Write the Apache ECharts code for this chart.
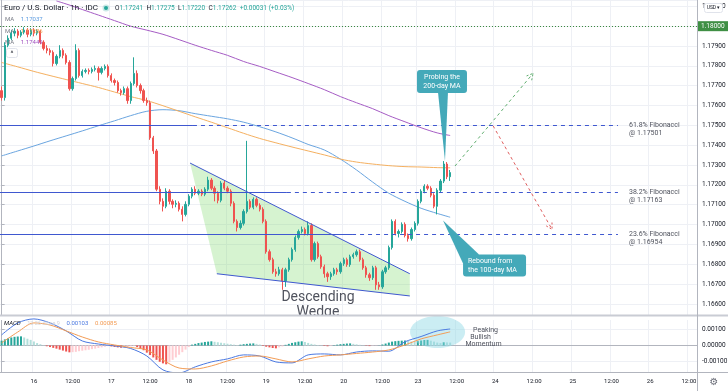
<!DOCTYPE html>
<html>
<head>
<meta charset="utf-8">
<script src="https://cdn.jsdelivr.net/npm/echarts@6/dist/echarts.min.js"></script>
<style>
html,body{margin:0;padding:0;background:#ffffff;}
#chart{width:728px;height:391px;}
</style>
</head>
<body>
<div id="chart"></div>
<script>
// ---------- time axis (hourly sessions) ----------
const sessionDays      = ['15','16','17','18','19','20','23','24','25','26'];
const sessionFirstHour = [14, 0, 0, 0, 0, 0, 0, 0, 0, 0];
const sessionLastHour  = [23,23,23,23,23,22,23,23,23,14];

// ---------- EUR/USD 1h candles ----------
const opens = [
1.17675,1.17640,1.17904,1.17939,1.17965,1.17975,1.17954,1.17970,1.17980,1.17959,
1.17980,1.17965,1.17975,1.17919,1.17888,1.17878,1.17868,1.17812,1.17848,1.17878,
1.17853,1.17817,1.17685,1.17736,1.17878,1.17751,1.17772,1.17777,1.17772,1.17782,
1.17787,1.17767,1.17787,1.17797,1.17751,1.17726,1.17716,1.17675,1.17665,1.17685,
1.17625,1.17711,1.17762,1.17701,1.17675,1.17625,1.17614,1.17437,1.17371,1.17178,
1.17117,1.17092,1.17168,1.17117,1.17102,1.17107,1.17077,1.17051,1.17102,1.17143,
1.17178,1.17158,1.17168,1.17153,1.17178,1.17224,1.17183,1.17158,1.17122,1.17209,
1.17183,1.17168,1.17107,1.17016,1.16985,1.17006,1.17066,1.17117,1.17087,1.17127,
1.17097,1.17077,1.17016,1.16863,1.16823,1.16762,1.16752,1.16772,1.16716,1.16772,
1.16823,1.16874,1.16935,1.16965,1.16975,1.16955,1.16995,1.16823,1.16904,1.16838,
1.16787,1.16752,1.16737,1.16752,1.16772,1.16762,1.16803,1.16823,1.16798,1.16838,
1.16848,1.16863,1.16823,1.16782,1.16747,1.16732,1.16782,1.16696,1.16686,1.16762,
1.16782,1.16884,1.17016,1.16955,1.16965,1.17001,1.16945,1.16929,1.16975,1.17006,
1.17117,1.17168,1.17193,1.17183,1.17148,1.17092,1.17173,1.17219,1.17305,1.17241];
const closes = [
1.17640,1.17904,1.17939,1.17965,1.17975,1.17954,1.17970,1.17980,1.17959,1.17980,
1.17965,1.17975,1.17919,1.17888,1.17878,1.17868,1.17812,1.17848,1.17878,1.17853,
1.17817,1.17685,1.17736,1.17878,1.17751,1.17772,1.17777,1.17772,1.17782,1.17787,
1.17767,1.17787,1.17797,1.17751,1.17726,1.17716,1.17675,1.17665,1.17685,1.17625,
1.17711,1.17762,1.17701,1.17675,1.17625,1.17614,1.17437,1.17371,1.17178,1.17117,
1.17092,1.17168,1.17117,1.17102,1.17107,1.17077,1.17051,1.17102,1.17143,1.17178,
1.17158,1.17168,1.17153,1.17178,1.17224,1.17183,1.17158,1.17122,1.17209,1.17183,
1.17168,1.17107,1.17016,1.16985,1.17006,1.17066,1.17117,1.17087,1.17127,1.17097,
1.17077,1.17016,1.16863,1.16823,1.16762,1.16752,1.16772,1.16716,1.16772,1.16823,
1.16874,1.16935,1.16965,1.16975,1.16955,1.16995,1.16823,1.16904,1.16838,1.16787,
1.16752,1.16737,1.16752,1.16772,1.16762,1.16803,1.16823,1.16798,1.16838,1.16848,
1.16863,1.16823,1.16782,1.16747,1.16732,1.16782,1.16696,1.16686,1.16762,1.16782,
1.16884,1.17016,1.16955,1.16965,1.17001,1.16945,1.16929,1.16975,1.17006,1.17117,
1.17168,1.17193,1.17183,1.17148,1.17092,1.17173,1.17219,1.17305,1.17241,1.17262];
const lows = [
1.17625,1.17625,1.17894,1.17929,1.17949,1.17939,1.17944,1.17959,1.17944,1.17949,
1.17949,1.17954,1.17909,1.17878,1.17863,1.17853,1.17797,1.17802,1.17838,1.17838,
1.17807,1.17675,1.17675,1.17726,1.17741,1.17741,1.17762,1.17757,1.17762,1.17772,
1.17726,1.17757,1.17777,1.17741,1.17716,1.17701,1.17665,1.17650,1.17655,1.17609,
1.17609,1.17701,1.17691,1.17660,1.17614,1.17599,1.17427,1.17356,1.17168,1.17102,
1.17066,1.17082,1.17102,1.17082,1.17087,1.17066,1.17016,1.17041,1.17092,1.17132,
1.17148,1.17148,1.17143,1.17143,1.17168,1.17173,1.17117,1.17107,1.17112,1.17173,
1.17158,1.17092,1.17006,1.16965,1.16975,1.16995,1.17056,1.17077,1.17077,1.17087,
1.17066,1.17006,1.16853,1.16813,1.16752,1.16737,1.16742,1.16671,1.16686,1.16762,
1.16813,1.16863,1.16924,1.16955,1.16945,1.16945,1.16813,1.16813,1.16828,1.16777,
1.16732,1.16711,1.16721,1.16742,1.16747,1.16752,1.16792,1.16787,1.16787,1.16828,
1.16838,1.16813,1.16772,1.16732,1.16716,1.16721,1.16671,1.16671,1.16676,1.16752,
1.16772,1.16874,1.16945,1.16935,1.16955,1.16935,1.16914,1.16919,1.16965,1.16995,
1.17107,1.17158,1.17173,1.17137,1.17082,1.17051,1.17163,1.17209,1.17229,1.17220];
const highs = [
1.17696,1.17919,1.17954,1.17980,1.17990,1.17985,1.17980,1.17995,1.17990,1.17990,
1.17990,1.17985,1.17980,1.17929,1.17904,1.17888,1.17878,1.17858,1.17904,1.17888,
1.17863,1.17828,1.17746,1.17909,1.17888,1.17782,1.17787,1.17787,1.17792,1.17802,
1.17797,1.17797,1.17807,1.17807,1.17762,1.17736,1.17726,1.17685,1.17696,1.17696,
1.17721,1.17843,1.17777,1.17711,1.17685,1.17640,1.17625,1.17447,1.17381,1.17193,
1.17132,1.17183,1.17178,1.17127,1.17122,1.17117,1.17092,1.17117,1.17153,1.17188,
1.17193,1.17178,1.17178,1.17188,1.17241,1.17234,1.17193,1.17168,1.17219,1.17224,
1.17193,1.17178,1.17117,1.17026,1.17021,1.17077,1.17422,1.17127,1.17137,1.17137,
1.17107,1.17087,1.17026,1.16874,1.16833,1.16777,1.16787,1.16782,1.16782,1.16833,
1.16884,1.16945,1.16975,1.16990,1.16985,1.17016,1.17006,1.16914,1.16914,1.16848,
1.16798,1.16762,1.16762,1.16782,1.16782,1.16813,1.16833,1.16833,1.16848,1.16858,
1.16874,1.16874,1.16833,1.16792,1.16757,1.16792,1.16792,1.16711,1.16772,1.16792,
1.16894,1.17026,1.17026,1.16975,1.17011,1.17011,1.16955,1.16985,1.17016,1.17127,
1.17178,1.17203,1.17203,1.17193,1.17158,1.17183,1.17229,1.17320,1.17315,1.17275];

// ---------- moving averages (read every 5 bars) ----------
const maBars  = [0,5,10,15,20,25,30,35,40,45,50,55,60,65,70,75,80,85,90,95,100,105,110,115,120,125,130,135,139];
const ma100 = [1.17346,1.17371,1.17396,1.17422,1.17447,1.17472,1.17498,1.17523,1.17549,1.17571,1.17579,1.17574,1.17559,1.17546,1.17533,1.17516,1.17493,1.17467,1.17437,1.17404,1.17376,1.17330,1.17275,1.17214,1.17158,1.17117,1.17082,1.17056,1.17037];
const ma50  = [1.17817,1.17795,1.17772,1.17751,1.17731,1.17711,1.17691,1.17668,1.17645,1.17625,1.17599,1.17571,1.17543,1.17516,1.17488,1.17460,1.17434,1.17412,1.17391,1.17371,1.17351,1.17330,1.17315,1.17305,1.17297,1.17292,1.17290,1.17287,1.17286];
const ma200Bars = [17,20,25,30,35,40,45,50,55,60,65,70,75,80,85,90,95,100,105,110,115,120,125,130,135,139];
const ma200 = [1.18127,1.18112,1.18084,1.18056,1.18028,1.18000,1.17980,1.17959,1.17932,1.17904,1.17878,1.17853,1.17822,1.17797,1.17769,1.17741,1.17711,1.17680,1.17645,1.17614,1.17584,1.17549,1.17518,1.17488,1.17462,1.17449];

// ---------- MACD ----------
const macdLine   = [0.00066,0.00141,0.00166,0.00141,0.00091,0.00028,0.00009,-0.00003,-0.00019,-0.00066,-0.00153,-0.00172,-0.00134,-0.00103,-0.00084,-0.00059,-0.00066,-0.00103,-0.00109,-0.00059,-0.00053,-0.00059,-0.00041,-0.00034,-0.00036,0.00023,0.00056,0.00091,0.00103];
const signalLine = [0.00016,0.00084,0.00141,0.00128,0.00091,0.00053,0.00022,0.00003,-0.00013,-0.00028,-0.00091,-0.00141,-0.00147,-0.00128,-0.00097,-0.00072,-0.00066,-0.00084,-0.00103,-0.00084,-0.00066,-0.00059,-0.00050,-0.00041,-0.00028,0.00003,0.00041,0.00066,0.00085];
const histogram = [
0.00030,0.00038,0.00045,0.00050,0.00054,0.00056,0.00057,0.00050,0.00042,0.00035,
0.00025,0.00015,0.00008,0.00002,-0.00005,-0.00010,-0.00015,-0.00020,-0.00026,-0.00032,
-0.00038,-0.00043,-0.00042,-0.00040,-0.00036,-0.00033,-0.00030,-0.00027,-0.00023,-0.00020,
-0.00016,-0.00012,-0.00008,-0.00004,-0.00006,-0.00009,-0.00012,-0.00014,-0.00013,-0.00010,
-0.00006,-0.00003,-0.00010,-0.00020,-0.00030,-0.00045,-0.00060,-0.00075,-0.00090,-0.00102,
-0.00112,-0.00118,-0.00105,-0.00090,-0.00075,-0.00058,-0.00042,-0.00026,-0.00010,0.00005,
0.00010,0.00015,0.00018,0.00022,0.00024,0.00026,0.00023,0.00020,0.00017,0.00014,
0.00011,0.00008,0.00005,0.00003,0.00005,0.00008,0.00010,0.00012,0.00013,0.00010,
0.00006,-0.00003,-0.00008,-0.00012,-0.00016,-0.00018,-0.00012,-0.00006,0.00004,0.00010,
0.00016,0.00020,0.00024,0.00026,0.00022,0.00016,0.00010,0.00006,0.00003,0.00001,
-0.00003,-0.00005,-0.00003,0.00002,0.00005,0.00008,0.00010,0.00012,0.00013,0.00010,
0.00007,0.00004,0.00001,-0.00002,-0.00004,-0.00002,-0.00001,0.00001,0.00006,0.00012,
0.00018,0.00024,0.00027,0.00029,0.00030,0.00031,0.00028,0.00025,0.00023,0.00027,
0.00031,0.00034,0.00035,0.00030,0.00024,0.00018,0.00015,0.00020,0.00019,0.00018];

// ---------- drawings (bar index, price) ----------
const alertLevel = 1.18;
const fibLevels = [1.17501, 1.17163, 1.16954];
const fibNames  = ['61.8% Fibonacci', '38.2% Fibonacci', '23.6% Fibonacci'];
const fibSolidTo = [59.3, 88.4, 108.6];
const fibDashTo  = 191;
const wedgeUpper = [[58.4, 1.17310], [126.5, 1.16752]];
const wedgeLower = [[66.7, 1.16752], [126.5, 1.16640]];
const arrowStart = [[140.5, 1.17295], [152.3, 1.17498]];
const arrowEnd   = [[164.7, 1.17762], [170.6, 1.16975]];
const arrowColors = ['#5fae6e', '#e06060'];
const calloutTips = [[137.4, 1.17320], [136.8, 1.17021]];
const calloutTexts = [['Probing the', '200-day MA'], ['Rebound from', 'the 100-day MA']];
const macdHighlight = [135.1, 0.00084];

// ---------- build ----------
const categories = [];
sessionDays.forEach((d, k) => {
  for (let h = sessionFirstHour[k]; h <= sessionLastHour[k]; h++) {
    categories.push(d + ' ' + String(h).padStart(2, '0') + ':00');
  }
});
const N = categories.length;
const FONT = "Roboto, 'Liberation Sans', Arial, sans-serif";
const GRIDC = '#eef0f5';
const AXC = '#b2b5be';
const TEAL = '#44a9b9';
const FIBC = '#3f58d0';
const isMajor = (idx, val) => { const t = String(val).slice(-5); return t === '00:00' || t === '12:00'; };
const timeLabel = (val) => { const t = String(val).slice(-5); return t === '00:00' ? String(val).split(' ')[0] : (t === '12:00' ? '12:00' : ''); };
const candleData = opens.map((o, i) => [o, closes[i], lows[i], highs[i]]);
const last = opens.length - 1;
const histColor = (i) => {
  const v = histogram[i], p = i > 0 ? histogram[i - 1] : v;
  if (v >= 0) return (v < p) ? '#b2dfdb' : '#26a69a';
  return (v > p) ? '#ffcdd2' : '#ef5350';
};
const snap = v => Math.round(v) + 0.5;

const option = {
  animation: false,
  backgroundColor: '#ffffff',
  textStyle: { fontFamily: FONT },
  grid: [
    { left: 0, top: 0, width: 697, height: 315, outerBoundsMode: 'none' },
    { left: 0, top: 317, width: 697, height: 55, outerBoundsMode: 'none' }
  ],
  xAxis: [
    { type: 'category', gridIndex: 0, data: categories, boundaryGap: true,
      axisLine: { show: false }, axisTick: { show: false }, axisLabel: { show: false },
      splitLine: { show: true, interval: isMajor, lineStyle: { color: GRIDC, width: 1 } } },
    { type: 'category', gridIndex: 1, data: categories, boundaryGap: true,
      axisLine: { show: true, lineStyle: { color: AXC } }, axisTick: { show: false },
      axisLabel: { show: true, interval: isMajor, formatter: timeLabel, fontSize: 6, color: '#131722', margin: 6, fontFamily: FONT },
      splitLine: { show: true, interval: isMajor, lineStyle: { color: GRIDC, width: 1 } } },
    { type: 'value', gridIndex: 0, min: -0.5, max: N - 0.5, show: false },
    { type: 'value', gridIndex: 1, min: -0.5, max: N - 0.5, show: false }
  ],
  yAxis: [
    { type: 'value', gridIndex: 0, position: 'right', min: 1.16544, max: 1.18132, splitNumber: 16,
      axisLine: { show: true, lineStyle: { color: AXC } },
      axisTick: { show: true, length: 3, lineStyle: { color: AXC } },
      axisLabel: { formatter: v => v.toFixed(5), fontSize: 6.5, color: '#131722', margin: 5, showMinLabel: false, showMaxLabel: false, fontFamily: FONT },
      splitLine: { show: true, lineStyle: { color: GRIDC } } },
    { type: 'value', gridIndex: 1, position: 'right', min: -0.00166, max: 0.00178, splitNumber: 3,
      axisLine: { show: true, lineStyle: { color: AXC } },
      axisTick: { show: true, length: 3, lineStyle: { color: AXC } },
      axisLabel: { formatter: v => v.toFixed(5), fontSize: 6.5, color: '#131722', margin: 5, showMinLabel: false, showMaxLabel: false, fontFamily: FONT },
      splitLine: { show: true, lineStyle: { color: GRIDC } } }
  ],
  series: [
    { type: 'custom', xAxisIndex: 2, yAxisIndex: 0, z: 1, silent: true,
      data: [[wedgeUpper[0][0], wedgeUpper[0][1]]],
      renderItem: (params, api) => {
        const pts = [wedgeUpper[0], wedgeUpper[1], wedgeLower[1], wedgeLower[0]].map(p => api.coord(p));
        return { type: 'polygon', shape: { points: pts }, style: { fill: 'rgba(120,215,100,0.30)', stroke: null } };
      } },
    { type: 'line', name: 'MA100', xAxisIndex: 0, yAxisIndex: 0, z: 2, data: maBars.map((b, k) => [b, ma100[k]]),
      showSymbol: false, smooth: 0.3, lineStyle: { color: '#6aa5e0', width: 1 }, silent: true },
    { type: 'line', name: 'MA50', xAxisIndex: 0, yAxisIndex: 0, z: 2, data: maBars.map((b, k) => [b, ma50[k]]),
      showSymbol: false, smooth: 0.3, lineStyle: { color: '#f5b060', width: 1 }, silent: true },
    { type: 'line', name: 'MA200', xAxisIndex: 0, yAxisIndex: 0, z: 2, data: ma200Bars.map((b, k) => [b, ma200[k]]),
      showSymbol: false, smooth: 0.3, lineStyle: { color: '#a55cc4', width: 1 }, silent: true },
    { type: 'candlestick', xAxisIndex: 0, yAxisIndex: 0, z: 3, data: candleData, barWidth: 1.8,
      itemStyle: { color: '#26a69a', color0: '#ef5350', borderColor: '#26a69a', borderColor0: '#ef5350', borderWidth: 1 },
      markLine: { symbol: ['none', 'none'], silent: true, animation: false, precision: 5,
        data: [
          { yAxis: alertLevel, lineStyle: { color: '#3b8a3e', type: [1, 2], width: 1 },
            label: { show: true, position: 'end', distance: 0, formatter: alertLevel.toFixed(5), backgroundColor: '#3f8f44', color: '#ffffff', fontSize: 6.5, padding: [2, 4, 1, 4], fontFamily: FONT } },
          { yAxis: closes[last], lineStyle: { opacity: 0 },
            label: { show: true, position: 'end', distance: 0, formatter: closes[last].toFixed(5), backgroundColor: '#26a69a', color: '#ffffff', fontSize: 6.5, padding: [2, 4, 1, 4], fontFamily: FONT } }
        ] } },
    { type: 'custom', xAxisIndex: 2, yAxisIndex: 0, z: 4, silent: true,
      data: [[wedgeUpper[0][0], wedgeUpper[0][1], wedgeUpper[1][0], wedgeUpper[1][1]], [wedgeLower[0][0], wedgeLower[0][1], wedgeLower[1][0], wedgeLower[1][1]]],
      renderItem: (params, api) => {
        const a = api.coord([api.value(0), api.value(1)]), b = api.coord([api.value(2), api.value(3)]);
        return { type: 'line', shape: { x1: a[0], y1: a[1], x2: b[0], y2: b[1] }, style: { stroke: FIBC, lineWidth: 1 } };
      } },
    { type: 'custom', xAxisIndex: 2, yAxisIndex: 0, z: 4, silent: true,
      data: fibLevels.map((v, k) => [fibSolidTo[k], v]),
      renderItem: (params, api) => {
        const k = params.dataIndex, lvl = fibLevels[k];
        const p0 = api.coord([-0.5, lvl]), p1 = api.coord([fibSolidTo[k], lvl]), p2 = api.coord([fibDashTo, lvl]);
        const y = snap(p1[1]);
        return { type: 'group', children: [
          { type: 'line', shape: { x1: p0[0], y1: y, x2: p1[0], y2: y }, style: { stroke: FIBC, lineWidth: 1 } },
          { type: 'line', shape: { x1: p1[0], y1: y, x2: p2[0], y2: y }, style: { stroke: FIBC, lineWidth: 1, lineDash: [4, 4] } },
          { type: 'text', x: p2[0] + 11, y: y, style: { text: fibNames[k], fill: '#50535e', font: '7px ' + FONT, verticalAlign: 'middle', align: 'left' } },
          { type: 'text', x: p2[0] + 11, y: y + 8, style: { text: '@ ' + lvl.toFixed(5), fill: '#50535e', font: '7px ' + FONT, verticalAlign: 'middle', align: 'left' } }
        ] };
      } },
    { type: 'custom', xAxisIndex: 2, yAxisIndex: 0, z: 4, silent: true,
      data: arrowStart.map((s, k) => [s[0], s[1], arrowEnd[k][0], arrowEnd[k][1]]),
      renderItem: (params, api) => {
        const a = api.coord([api.value(0), api.value(1)]), b = api.coord([api.value(2), api.value(3)]);
        const c = arrowColors[params.dataIndex];
        const ang = Math.atan2(b[1] - a[1], b[0] - a[0]), L = 7, w = 0.5;
        const h1 = [b[0] - L * Math.cos(ang - w), b[1] - L * Math.sin(ang - w)];
        const h2 = [b[0] - L * Math.cos(ang + w), b[1] - L * Math.sin(ang + w)];
        return { type: 'group', children: [
          { type: 'line', shape: { x1: a[0], y1: a[1], x2: b[0], y2: b[1] }, style: { stroke: c, lineWidth: 1, lineDash: [3, 3] } },
          { type: 'polyline', shape: { points: [h1, b, h2] }, style: { stroke: c, lineWidth: 1, fill: null, lineDash: [2, 2] } }
        ] };
      } },
    { type: 'custom', xAxisIndex: 2, yAxisIndex: 0, z: 6, silent: true,
      data: calloutTips.map(t => [t[0], t[1]]),
      renderItem: (params, api) => {
        const k = params.dataIndex;
        const t = api.coord([api.value(0), api.value(1)]);
        const txt = calloutTexts[k];
        if (k === 0) {
          const bx = t[0] - 28, by = t[1] - 91, bw = 50, bh = 23;
          return { type: 'group', children: [
            { type: 'polygon', shape: { points: [t, [t[0] - 7, by + bh - 1], [t[0] + 3, by + bh - 1]] }, style: { fill: TEAL } },
            { type: 'rect', shape: { x: bx, y: by, width: bw, height: bh, r: 3 }, style: { fill: TEAL } },
            { type: 'text', x: bx + bw / 2, y: by + 7.5, style: { text: txt[0], fill: '#ffffff', font: '7px ' + FONT, align: 'center', verticalAlign: 'middle' } },
            { type: 'text', x: bx + bw / 2, y: by + 16, style: { text: txt[1], fill: '#ffffff', font: '7px ' + FONT, align: 'center', verticalAlign: 'middle' } }
          ] };
        }
        const bx = t[0] + 20, by = t[1] + 34, bw = 63, bh = 22;
        return { type: 'group', children: [
          { type: 'polygon', shape: { points: [t, [bx, by + 9], [bx + 16, by]] }, style: { fill: TEAL } },
          { type: 'rect', shape: { x: bx, y: by, width: bw, height: bh, r: 3 }, style: { fill: TEAL } },
          { type: 'text', x: bx + 5, y: by + 7, style: { text: txt[0], fill: '#ffffff', font: '7px ' + FONT, align: 'left', verticalAlign: 'middle' } },
          { type: 'text', x: bx + 5, y: by + 15.5, style: { text: txt[1], fill: '#ffffff', font: '7px ' + FONT, align: 'left', verticalAlign: 'middle' } }
        ] };
      } },
    { type: 'bar', xAxisIndex: 1, yAxisIndex: 1, z: 2, barWidth: 2, silent: true,
      data: histogram.map((v, i) => ({ value: v, itemStyle: { color: histColor(i) } })) },
    { type: 'custom', xAxisIndex: 3, yAxisIndex: 1, z: 3, silent: true,
      data: [macdHighlight],
      renderItem: (params, api) => {
        const c = api.coord([api.value(0), api.value(1)]);
        return { type: 'group', children: [
          { type: 'ellipse', shape: { cx: c[0], cy: c[1], rx: 27.5, ry: 16 }, style: { fill: 'rgba(140,215,228,0.45)' } },
          { type: 'text', x: c[0] + 48, y: c[1] - 1.5, style: { text: 'Peaking', fill: '#50535e', font: '7px ' + FONT, align: 'center', verticalAlign: 'middle' } },
          { type: 'text', x: c[0] + 43, y: c[1] + 5.5, style: { text: 'Bullish', fill: '#50535e', font: '7px ' + FONT, align: 'center', verticalAlign: 'middle' } },
          { type: 'text', x: c[0] + 46, y: c[1] + 12.5, style: { text: 'Momentum', fill: '#50535e', font: '7px ' + FONT, align: 'center', verticalAlign: 'middle' } }
        ] };
      } },
    { type: 'line', name: 'MACD', xAxisIndex: 1, yAxisIndex: 1, z: 4, data: maBars.map((b, k) => [b, macdLine[k]]),
      showSymbol: false, smooth: 0.3, lineStyle: { color: '#4a78e0', width: 1 }, silent: true },
    { type: 'line', name: 'Signal', xAxisIndex: 1, yAxisIndex: 1, z: 4, data: maBars.map((b, k) => [b, signalLine[k]]),
      showSymbol: false, smooth: 0.3, lineStyle: { color: '#f39c55', width: 1 }, silent: true }
  ],
  graphic: [
    { type: 'text', x: 318, y: 297.5, z: 1, style: { text: 'Descending', fill: '#50535e', font: '14px ' + FONT, align: 'center', verticalAlign: 'middle' } },
    { type: 'text', x: 318, y: 312, z: 1, style: { text: 'Wedge', fill: '#50535e', font: '14px ' + FONT, align: 'center', verticalAlign: 'middle' } },
    { type: 'rect', z: 1.5, shape: { x: 0, y: 315, width: 697, height: 5 }, style: { fill: '#ffffff' } },
    { type: 'line', z: 10, shape: { x1: 0, y1: 315.5, x2: 728, y2: 315.5 }, style: { stroke: '#c9ccd4', lineWidth: 2 } },
    { type: 'line', z: 10, shape: { x1: 697.5, y1: 0, x2: 697.5, y2: 391 }, style: { stroke: AXC, lineWidth: 1 } },
    { type: 'line', z: 10, shape: { x1: 0, y1: 372.5, x2: 728, y2: 372.5 }, style: { stroke: AXC, lineWidth: 1 } },
    { type: 'text', x: 4, y: 8, z: 10, style: { text: 'Euro / U.S. Dollar · 1h · IDC', fill: '#131722', font: '8px ' + FONT, verticalAlign: 'middle' } },
    { type: 'circle', z: 10, shape: { cx: 106, cy: 8, r: 3.5 }, style: { fill: 'rgba(38,166,154,0.25)' } },
    { type: 'circle', z: 10, shape: { cx: 106, cy: 8, r: 2 }, style: { fill: '#26a69a' } },
    { type: 'text', x: 115, y: 8, z: 10, style: {
        text: '{k|O}{v|' + opens[last].toFixed(5) + '} {k|H}{v|' + highs[last].toFixed(5) + '} {k|L}{v|' + lows[last].toFixed(5) + '} {k|C}{v|' + closes[last].toFixed(5) + '} {v|+0.00031 (+0.03%)}',
        verticalAlign: 'middle',
        rich: { k: { fill: '#131722', fontSize: 6.5, fontFamily: FONT }, v: { fill: '#26a69a', fontSize: 6.5, fontFamily: FONT } } } },
    { type: 'text', x: 5, y: 19, z: 10, style: { text: '{k|MA}  {v|' + ma100[ma100.length - 1].toFixed(5) + '}', verticalAlign: 'middle',
        rich: { k: { fill: '#787b86', fontSize: 6, fontFamily: FONT }, v: { fill: '#5b9be0', fontSize: 6, fontFamily: FONT } } } },
    { type: 'text', x: 5, y: 31, z: 10, style: { text: '{k|MA}  {v|' + ma50[ma50.length - 1].toFixed(5) + '}', verticalAlign: 'middle',
        rich: { k: { fill: '#787b86', fontSize: 6, fontFamily: FONT }, v: { fill: '#f0a050', fontSize: 6, fontFamily: FONT } } } },
    { type: 'text', x: 5, y: 42, z: 10, style: { text: '{k|MA}  {v|' + ma200[ma200.length - 1].toFixed(5) + '}', verticalAlign: 'middle',
        rich: { k: { fill: '#787b86', fontSize: 6, fontFamily: FONT }, v: { fill: '#a050c0', fontSize: 6, fontFamily: FONT } } } },
    { type: 'rect', z: 10, shape: { x: 6.5, y: 48.5, width: 11, height: 9, r: 2 }, style: { fill: '#ffffff', stroke: '#e0e3eb', lineWidth: 1 } },
    { type: 'text', x: 12, y: 54, z: 11, style: { text: '^', fill: '#131722', font: '7px ' + FONT, align: 'center', verticalAlign: 'middle' } },
    { type: 'text', x: 4, y: 323.5, z: 10, style: {
        text: '{k|MACD}  {f|12 26 close 9}  {b|' + macdLine[macdLine.length - 1].toFixed(5) + '}  {o|' + signalLine[signalLine.length - 1].toFixed(5) + '}',
        verticalAlign: 'middle',
        rich: { k: { fill: '#131722', fontSize: 6, fontStyle: 'italic', fontFamily: FONT }, f: { fill: '#d0d3da', fontSize: 5.5, fontFamily: FONT },
                b: { fill: '#4a78e0', fontSize: 6, fontFamily: FONT }, o: { fill: '#f39c55', fontSize: 6, fontFamily: FONT } } } },
    { type: 'rect', z: 10, shape: { x: 704.5, y: 3.5, width: 18, height: 9, r: 2 }, style: { fill: '#ffffff', stroke: '#e0e3eb', lineWidth: 1 } },
    { type: 'text', x: 713.5, y: 8, z: 11, style: { text: 'USD ▾', fill: '#131722', font: '5px ' + FONT, align: 'center', verticalAlign: 'middle' } },
    { type: 'text', x: 714, y: 382, z: 11, style: { text: '⚙', fill: '#6a6d78', font: '10px DejaVu Sans', align: 'center', verticalAlign: 'middle' } }
  ]
};

const chart = echarts.init(document.getElementById('chart'), null, { renderer: 'canvas' });
chart.setOption(option);
</script>
</body>
</html>
